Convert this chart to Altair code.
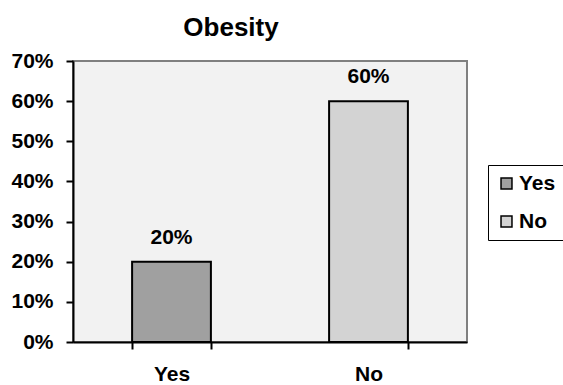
import altair as alt
import pandas as pd

categories = ["Yes", "No"]
shares = [0.20, 0.60]
fills = ["#a0a0a0", "#d3d3d3"]

df = pd.DataFrame({"answer": categories, "share": shares})

FONT = "Liberation Sans"

x_enc = alt.X(
    "answer:N",
    sort=categories,
    title=None,
    scale=alt.Scale(paddingInner=0.6, paddingOuter=0.3),
    axis=alt.Axis(
        tickBand="extent",
        labelAngle=0,
        labelFont=FONT,
        labelFontSize=21,
        labelFontWeight="bold",
        labelColor="black",
        labelPadding=14,
        tickSize=7,
        tickWidth=2,
        tickColor="black",
        domainColor="black",
        domainWidth=2,
        grid=False,
        zindex=1,
    ),
)

y_enc = alt.Y(
    "share:Q",
    title=None,
    scale=alt.Scale(domain=[0, 0.7], nice=False),
    axis=alt.Axis(
        values=[0, 0.1, 0.2, 0.3, 0.4, 0.5, 0.6, 0.7],
        format=".0%",
        labelFont=FONT,
        labelFontSize=21,
        labelFontWeight="bold",
        labelColor="black",
        labelPadding=13,
        tickSize=7,
        tickWidth=2,
        tickColor="black",
        domainColor="black",
        domainWidth=2,
        grid=False,
        zindex=1,
    ),
)

# legend labels get a little trailing room so the framed box runs off the right edge
bars = alt.Chart(df).mark_bar(stroke="black", strokeWidth=2).encode(
    x=x_enc,
    y=y_enc,
    color=alt.Color(
        "answer:N",
        sort=categories,
        scale=alt.Scale(domain=categories, range=fills),
        legend=alt.Legend(
            title=None,
            orient="none",
            legendX=415,
            legendY=104,
            symbolType="square",
            symbolSize=120,
            symbolStrokeColor="black",
            symbolStrokeWidth=1.5,
            labelFont=FONT,
            labelFontSize=21,
            labelFontWeight="bold",
            labelColor="black",
            labelOffset=2,
            labelExpr="datum.label + '\u2003\u2003'",
            rowPadding=16,
            padding=8,
            strokeColor="black",
            fillColor="white",
        ),
    ),
)

labels = alt.Chart(df).mark_text(
    font=FONT, fontSize=21, fontWeight="bold", color="black",
    baseline="alphabetic", dy=-18,
).encode(
    x=alt.X("answer:N", sort=categories),
    y=alt.Y("share:Q"),
    text=alt.Text("share:Q", format=".0%"),
)

chart = (
    alt.layer(bars, labels)
    .properties(
        width=394,
        height=281,
        autosize=alt.AutoSizeParams(type="none"),
        padding={"left": 73, "top": 61, "right": 96, "bottom": 43},
        background="white",
        title=alt.TitleParams(
            "Obesity",
            font=FONT,
            fontSize=26,
            fontWeight="bold",
            color="black",
            anchor="middle",
            dx=-39,
            offset=9,
        ),
    )
    .configure_view(fill="#f2f2f2", stroke="#808080", strokeWidth=2)
)

chart.save("out.html", embed_options={"renderer": "svg", "actions": False})
